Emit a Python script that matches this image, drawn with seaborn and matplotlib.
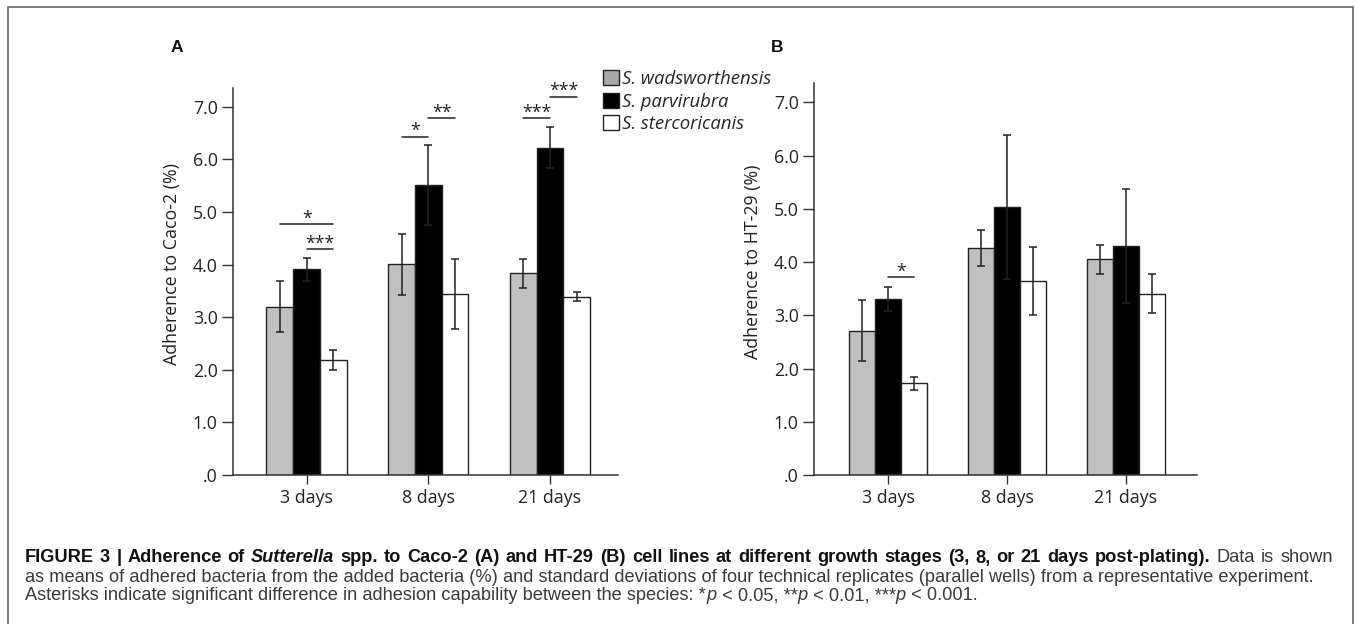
import numpy as np
import pandas as pd
import matplotlib
matplotlib.use("Agg")
import matplotlib.pyplot as plt
import matplotlib.transforms as mtransforms
from matplotlib.patches import Patch, Rectangle
from matplotlib.font_manager import FontProperties, findfont, get_font
from matplotlib.ft2font import LoadFlags
import seaborn as sns

# ---------------- data ----------------
days = ["3 days", "8 days", "21 days"]
species = ["S. wadsworthensis", "S. parvirubra", "S. stercoricanis"]
bar_colors = ["#c0c0c0", "#000000", "#ffffff"]
legend_colors = ["#a8a8a8", "#000000", "#ffffff"]

caco_wads_mean = [3.20, 4.01, 3.83]
caco_wads_sd = [0.48, 0.58, 0.28]
caco_parv_mean = [3.91, 5.51, 6.22]
caco_parv_sd = [0.22, 0.76, 0.39]
caco_sterc_mean = [2.19, 3.44, 3.39]
caco_sterc_sd = [0.19, 0.67, 0.08]

ht_wads_mean = [2.71, 4.26, 4.05]
ht_wads_sd = [0.57, 0.34, 0.27]
ht_parv_mean = [3.31, 5.03, 4.31]
ht_parv_sd = [0.22, 1.35, 1.07]
ht_sterc_mean = [1.72, 3.65, 3.41]
ht_sterc_sd = [0.13, 0.64, 0.36]

y_ticks = [0, 1, 2, 3, 4, 5, 6, 7]
y_ticklabels = [".0", "1.0", "2.0", "3.0", "4.0", "5.0", "6.0", "7.0"]

# significance brackets: (day index, species i, species j, height, label)
caco_sig = [(0, 0, 2, 4.77, "*"), (0, 1, 2, 4.30, "***"),
            (1, 0, 1, 6.43, "*"), (1, 1, 2, 6.79, "**"),
            (2, 0, 1, 6.79, "***"), (2, 1, 2, 7.19, "***")]
ht_sig = [(0, 1, 2, 3.72, "*")]

caption_lines = [
    [("FIGURE 3 | Adherence of ", "bold", "normal"),
     ("Sutterella", "bold", "italic"),
     (" spp. to Caco-2 (A) and HT-29 (B) cell lines at different growth stages (3, 8, or 21 days post-plating).", "bold", "normal"),
     (" Data is shown", "normal", "normal")],
    [("as means of adhered bacteria from the added bacteria (%) and standard deviations of four technical replicates (parallel wells) from a representative experiment.", "normal", "normal")],
    [("Asterisks indicate significant difference in adhesion capability between the species: *", "normal", "normal"),
     ("p", "normal", "italic"), (" < 0.05, **", "normal", "normal"),
     ("p", "normal", "italic"), (" < 0.01, ***", "normal", "normal"),
     ("p", "normal", "italic"), (" < 0.001.", "normal", "normal")],
]

# ---------------- style ----------------
sns.set_style("ticks")
plt.rcParams["font.family"] = ["Open Sans", "DejaVu Sans"]
W, H = 1357, 624
fig = plt.figure(figsize=(W / 100, H / 100), dpi=100)
fig.patch.set_facecolor("white")

INK = "#222222"
FS = 12.8
LEG_FS = 13.3


def make_df(means, sds):
    rows = []
    for sp, m, s in zip(species, means, sds):
        for d, mv, sv in zip(days, m, s):
            rows.append({"day": d, "species": sp, "value": mv, "sd": sv})
    return pd.DataFrame(rows)


def panel(rect, df, ylim, xlim, ylabel, sig):
    ax = fig.add_axes(rect)
    sns.barplot(data=df, x="day", y="value", hue="species", order=days,
                hue_order=species, palette=bar_colors, errorbar=None,
                width=0.66, gap=0, edgecolor=INK, linewidth=1.0,
                saturation=1, legend=False, ax=ax, zorder=2)
    centers = {}
    for h, sp in enumerate(species):
        cont = ax.containers[h]
        sub = df[df.species == sp].set_index("day").loc[days]
        for c, bar in enumerate(cont):
            centers[(c, h)] = bar.get_x() + bar.get_width() / 2
        xs = [centers[(c, h)] for c in range(len(days))]
        ax.errorbar(xs, sub["value"].values, yerr=sub["sd"].values, fmt="none",
                    ecolor=INK, elinewidth=1.1, capsize=3.0, capthick=1.1,
                    zorder=3)
    for (c, i, j, yv, lab) in sig:
        x0, x1 = centers[(c, i)], centers[(c, j)]
        ax.plot([x0, x1], [yv, yv], color=INK, lw=1.1, clip_on=False, zorder=4)
        tr = mtransforms.offset_copy(ax.transData, fig=fig, x=0, y=0.3, units="points")
        ax.text((x0 + x1) / 2, yv, lab, ha="center", va="baseline",
                fontsize=FS, color=INK, transform=tr, clip_on=False)
    ax.set_ylim(*ylim)
    ax.set_xlim(*xlim)
    ax.set_yticks(y_ticks)
    ax.set_yticklabels(y_ticklabels)
    ax.set_xlabel("")
    ax.set_ylabel(ylabel, fontsize=FS, color=INK)
    ax.yaxis.set_label_coords(-0.135, 0.545)
    sns.despine(ax=ax)
    for s in ["left", "bottom"]:
        ax.spines[s].set_linewidth(1.1)
        ax.spines[s].set_color("#333333")
    ax.tick_params(axis="y", direction="out", length=8, width=1.0,
                   color="#333333", labelsize=FS, labelcolor=INK, pad=3.0)
    ax.tick_params(axis="x", direction="out", length=6.5, width=1.0,
                   color="#333333", labelsize=FS, labelcolor=INK, pad=3.5)
    ax.set_facecolor("white")
    return ax


dfA = make_df([caco_wads_mean, caco_parv_mean, caco_sterc_mean],
              [caco_wads_sd, caco_parv_sd, caco_sterc_sd])
dfB = make_df([ht_wads_mean, ht_parv_mean, ht_sterc_mean],
              [ht_wads_sd, ht_parv_sd, ht_sterc_sd])

axA = panel([233 / W, 1 - 475 / H, 385 / W, (475 - 88.3) / H], dfA,
            (0, 7.35), (-0.605, 2.559), "Adherence to Caco-2 (%)", caco_sig)
axB = panel([814 / W, 1 - 475 / H, 382.7 / W, (475 - 83.3) / H], dfB,
            (0, 7.36), (-0.626, 2.598), "Adherence to HT-29 (%)", ht_sig)

# panel letters
fig.text(177 / W, 1 - 48 / H, "A", fontsize=12.5, fontweight="bold",
         family=["Liberation Sans", "DejaVu Sans"], ha="center", va="center", color="#111111")
fig.text(777 / W, 1 - 47 / H, "B", fontsize=12.5, fontweight="bold",
         family=["Liberation Sans", "DejaVu Sans"], ha="center", va="center", color="#111111")

# legend
handles = [Patch(facecolor=c, edgecolor=INK, linewidth=1.0) for c in legend_colors]
fig.legend(handles, species, loc="upper left",
           bbox_to_anchor=(603 / W, 1 - 70 / H), frameon=False,
           prop={"family": ["Open Sans", "DejaVu Sans"], "style": "italic", "size": LEG_FS},
           handlelength=0.87, handleheight=0.87, handletextpad=0.15,
           labelspacing=0.25, borderpad=0, borderaxespad=0)

# outer frame (open at the bottom)
fig.patches.append(Rectangle((8 / W, -0.1), 1345 / W, 1.1 - 7 / H, fill=False,
                             edgecolor="#666666", lw=1.2,
                             transform=fig.transFigure, clip_on=False))

# caption (advance-width based layout)
CAP_FAMILY = "Liberation Sans"
_fonts = {}


def adv_width(s, size, weight, style):
    key = (weight, style)
    if key not in _fonts:
        fp = FontProperties(family=CAP_FAMILY, weight=weight, style=style)
        _fonts[key] = get_font(findfont(fp))
    f = _fonts[key]
    f.set_size(size, 100)
    w = 0.0
    for ch in s:
        g = f.load_char(ord(ch), flags=LoadFlags.NO_HINTING)
        w += g.linearHoriAdvance / 65536
    return w


def run_list(line, split_words):
    if not split_words:
        return list(line)
    items = []
    for s, wt, st in line:
        parts = s.split(" ")
        for k, p in enumerate(parts):
            if k > 0:
                items.append((" ", wt, st))
            if p:
                items.append((p, wt, st))
    return items


base = 10.0
w2 = sum(adv_width(s, base, wt, st) for s, wt, st in caption_lines[1])
w3 = sum(adv_width(s, base, wt, st) for s, wt, st in caption_lines[2])
cap_size = base * 0.5 * ((1287 - 25) / w2 + (993 - 25) / w3)

cap_y = [558, 577, 596]
justify = [1333, None, None]
X0 = 25.0
for line, yy, tgt in zip(caption_lines, cap_y, justify):
    items = run_list(line, tgt is not None)
    nat = sum(adv_width(t, cap_size, wt, st) for t, wt, st in items)
    nsp = sum(1 for t, _, _ in items if t == " ")
    extra = (tgt - X0 - nat) / nsp if tgt else 0.0
    x = X0
    for t, wt, st in items:
        if t == " ":
            x += adv_width(" ", cap_size, wt, st) + extra
            continue
        col = "#111111" if wt == "bold" else "#3a3a3a"
        fig.text(x / W, 1 - yy / H, t, fontsize=cap_size, fontweight=wt,
                 fontstyle=st, family=[CAP_FAMILY, "DejaVu Sans"], ha="left",
                 va="center", color=col)
        x += adv_width(t, cap_size, wt, st)

fig.savefig("out.png", dpi=100, facecolor="white")
